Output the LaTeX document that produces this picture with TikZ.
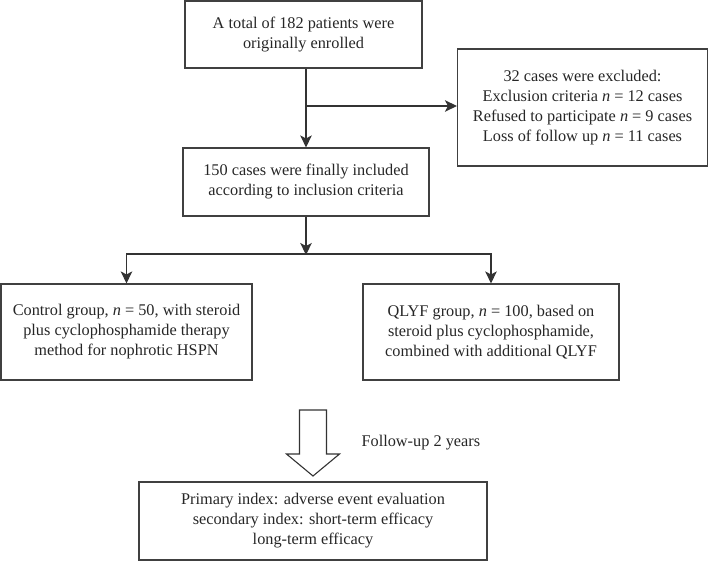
\documentclass[tikz,border=0pt]{standalone}
\usepackage{fontspec}
\setmainfont{Liberation Serif}
\usetikzlibrary{arrows.meta}
\begin{document}
\begin{tikzpicture}[x=1pt,y=-1pt,
  txt/.style={font=\fontsize{16.3}{20}\selectfont, text=black!85},
  box/.style={txt, draw=black!75, line width=1.1pt, align=center, inner sep=0pt},
  conn/.style={draw=black!80, line width=1.1pt},
  arr/.style={conn, -{Stealth[length=12pt,width=11.5pt,inset=3pt]}}
]
\useasboundingbox (0,0) rectangle (709,561);
\node[box, minimum width=237pt, minimum height=67pt] (top) at (303.5,34.5)
  {A total of 182 patients were\\originally enrolled};
\node[box, minimum width=250pt, minimum height=117pt] (excl) at (582.5,107.5)
  {32 cases were excluded:\\Exclusion criteria \textit{n} = 12 cases\\Refused to participate \textit{n} = 9 cases\\Loss of follow up \textit{n} = 11 cases};
\node[box, minimum width=246pt, minimum height=68pt] (incl) at (306,182)
  {150 cases were finally included\\according to inclusion criteria};
\node[box, minimum width=251pt, minimum height=96pt] (ctrl) at (126.5,332)
  {Control group, \textit{n} = 50, with steroid\\plus cyclophosphamide therapy\\method for nophrotic HSPN};
\node[box, minimum width=256pt, minimum height=96pt] (qlyf) at (491,332)
  {QLYF group, \textit{n} = 100, based on\\steroid plus cyclophosphamide,\\combined with additional QLYF};
\node[box, minimum width=348pt, minimum height=78pt] (res) at (313,521)
  {Primary index: adverse event evaluation\\secondary index: short-term efficacy\\long-term efficacy};

\draw[arr] (incl.north |- top.south) -- (incl.north);
\coordinate (br) at (306,106);
\draw[arr] (br) -- (br -| excl.west);

\coordinate (sp) at (306,254);
\draw[arr] (incl.south) -- ([yshift=-1pt]sp);
\draw[arr] (sp) -| (ctrl.north);
\draw[arr] (sp) -| (qlyf.north);

\draw[conn, fill=white, line join=miter]
  (299.5,410) -- (326.5,410) -- (326.5,454) -- (339.5,454) -- (313,476)
  -- (286.5,454) -- (299.5,454) -- cycle;
\node[txt, anchor=west] (fu) at (358,443) {Follow-up 2 years};
\end{tikzpicture}
\end{document}
